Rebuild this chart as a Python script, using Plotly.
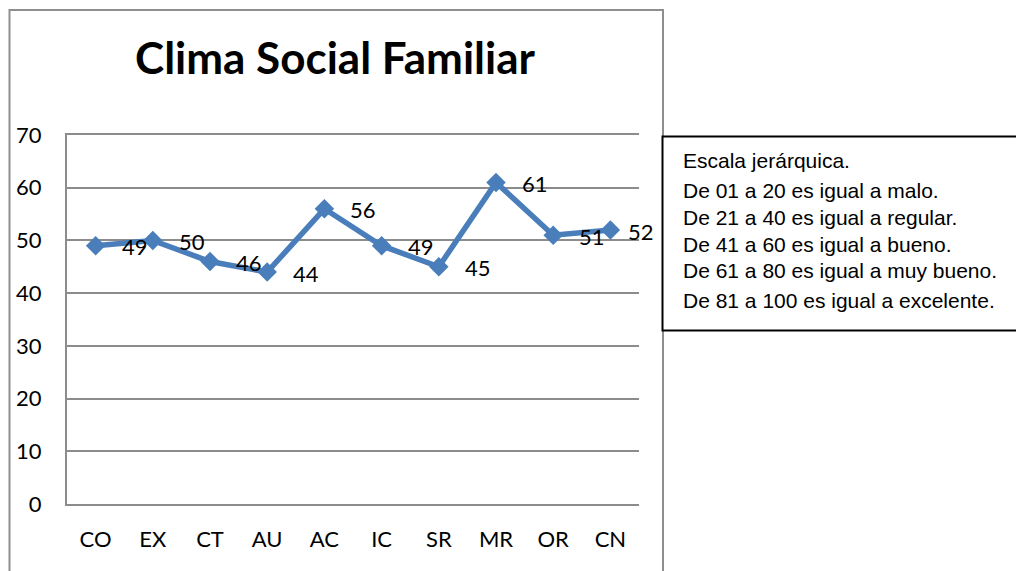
import plotly.graph_objects as go

categories = ["CO", "EX", "CT", "AU", "AC", "IC", "SR", "MR", "OR", "CN"]
values = [49, 50, 46, 44, 56, 49, 45, 61, 51, 52]
y_ticks = [0, 10, 20, 30, 40, 50, 60, 70]
title_text = "Clima Social Familiar"
scale_lines = [
    "Escala jerárquica.",
    "De 01 a 20 es igual a malo.",
    "De 21 a 40 es igual a regular.",
    "De 41 a 60 es igual a bueno.",
    "De 61 a 80 es igual a muy bueno.",
    "De 81 a 100 es igual a excelente.",
]

W, H = 1016, 571
L, R, T, B = 67, 639, 135, 504
LINE_COLOR = "#4A7EBB"
GRID = "#8C8C8C"
FONT = "Lato"


def px_x(x):
    return (x - L) / (R - L)


def px_y(y):
    return (B - y) / (B - T)


fig = go.Figure()
fig.add_trace(go.Scatter(
    x=categories, y=values, mode="lines+markers",
    line=dict(color=LINE_COLOR, width=5.5),
    marker=dict(symbol="diamond", size=15, color=LINE_COLOR),
    showlegend=False, hoverinfo="skip",
))

annotations = []
n = len(categories)
for i, (c, v) in enumerate(zip(categories, values)):
    annotations.append(dict(
        x=c, y=v, xref="x", yref="y", text=str(v), showarrow=False,
        xanchor="left", yanchor="middle",
        xshift=16 if i == n - 1 else 24, yshift=-2 if i == n - 1 else -1,
        font=dict(family=FONT, size=22, color="black"),
    ))

line_y = [160, 190, 217, 244, 270, 300]
for txt, yy in zip(scale_lines, line_y):
    annotations.append(dict(
        x=px_x(681), y=px_y(yy), xref="paper", yref="paper", text=txt,
        showarrow=False, xanchor="left", yanchor="middle",
        font=dict(family="Liberation Sans, Arial", size=21, color="black"),
    ))

shapes = [
    dict(type="rect", xref="paper", yref="paper", layer="below",
         x0=px_x(9.5), x1=px_x(663), y0=px_y(580), y1=px_y(10),
         line=dict(color="#8E8E8E", width=2), fillcolor="rgba(0,0,0,0)"),
    dict(type="rect", xref="paper", yref="paper", layer="above",
         x0=px_x(662.5), x1=px_x(1030), y0=px_y(330.5), y1=px_y(136.5),
         line=dict(color="black", width=2), fillcolor="white"),
]

fig.update_layout(
    width=W, height=H,
    margin=dict(l=L, r=W - R, t=T, b=H - B, autoexpand=False),
    paper_bgcolor="white", plot_bgcolor="white",
    title=dict(text="<b>" + title_text + "</b>", x=335 / W, xanchor="center",
               y=1 - 59 / H, yanchor="middle", yref="container",
               font=dict(family=FONT, size=44, color="black")),
    xaxis=dict(
        type="category", range=[-0.5, n - 0.5],
        showgrid=False, showline=True, mirror=True, linecolor=GRID,
        linewidth=2, ticks="", ticklabelstandoff=15,
        tickfont=dict(family=FONT, size=22, color="black"),
        fixedrange=True,
    ),
    yaxis=dict(
        range=[0, 70], tickvals=y_ticks, showgrid=True, gridcolor=GRID,
        gridwidth=1.5, zeroline=False, showline=True, linecolor=GRID,
        linewidth=2, ticks="", ticklabelstandoff=19,
        tickfont=dict(family=FONT, size=22, color="black"),
        fixedrange=True,
    ),
    annotations=annotations,
    shapes=shapes,
)

fig.write_html("out.html", config={"displayModeBar": False},
               post_script="document.body.style.margin='0';")
